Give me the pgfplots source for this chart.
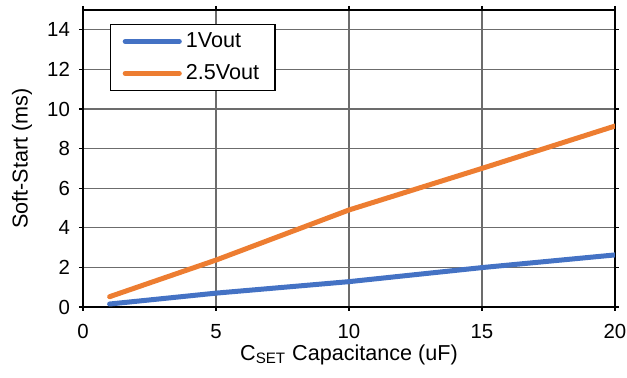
\documentclass[border=0pt]{standalone}
\usepackage{pgfplots}
\pgfplotsset{compat=1.18}
\usepackage{fontspec}
\setmainfont{Liberation Sans}
\definecolor{vblue}{HTML}{4472C4}
\definecolor{vorange}{HTML}{ED7D31}

\begin{document}
\fontsize{10}{12}\selectfont
\begin{tikzpicture}
  \begin{axis}[
      scale only axis,
      width=266pt,
      height=148.5pt,
      xmin=0, xmax=20,
      ymin=0, ymax=15,
      xtick={0,5,10,15,20},
      ytick={0,2,4,6,8,10,12,14},
      grid=major,
      major grid style={line width=0.6pt, gray!85!black},
      axis line style={line width=0.8pt},
      tick align=outside,
      major tick length=2pt,
      tick style={line width=0.6pt, black},
      ticklabel style={font=\fontsize{10.2}{12}\selectfont},
      xticklabel style={yshift=-3pt},
      yticklabel style={xshift=-1pt},
      /pgf/number format/assume math mode=true,
      xlabel={C\textsubscript{SET} Capacitance (uF)},
      ylabel={Soft-Start (ms)},
      xlabel style={at={(axis description cs:0.5,0)}, anchor=center, yshift=-24pt},
      ylabel style={at={(axis description cs:0,0.5)}, anchor=center, yshift=30.5pt},
      label style={font=\fontsize{10.8}{13}\selectfont},
      legend style={at={(0.051,0.953)}, anchor=north west, draw=black, line width=0.6pt,
        font=\fontsize{10.8}{13}\selectfont, row sep=3pt, inner xsep=6pt, inner ysep=2pt},
      legend cell align=left,
      legend image code/.code={\draw[#1, line cap=round] (0cm,0cm) -- (0.95cm,0cm);},
    ]
    \addplot[vblue, line width=2.5pt, line cap=round] coordinates {
      (1,0.15) (5,0.7) (10,1.28) (15,1.99) (20,2.63)};
    \addlegendentry{1Vout}
    \addplot[vorange, line width=2.5pt, line cap=round] coordinates {
      (1,0.52) (5,2.37) (10,4.9) (15,7.0) (20,9.14)};
    \addlegendentry{2.5Vout}
  \end{axis}
  \pgfresetboundingbox
  \path ([xshift=-41.5pt,yshift=-35.5pt]current axis.south west)
    rectangle ([xshift=6pt,yshift=5pt]current axis.north east);
\end{tikzpicture}
\end{document}
